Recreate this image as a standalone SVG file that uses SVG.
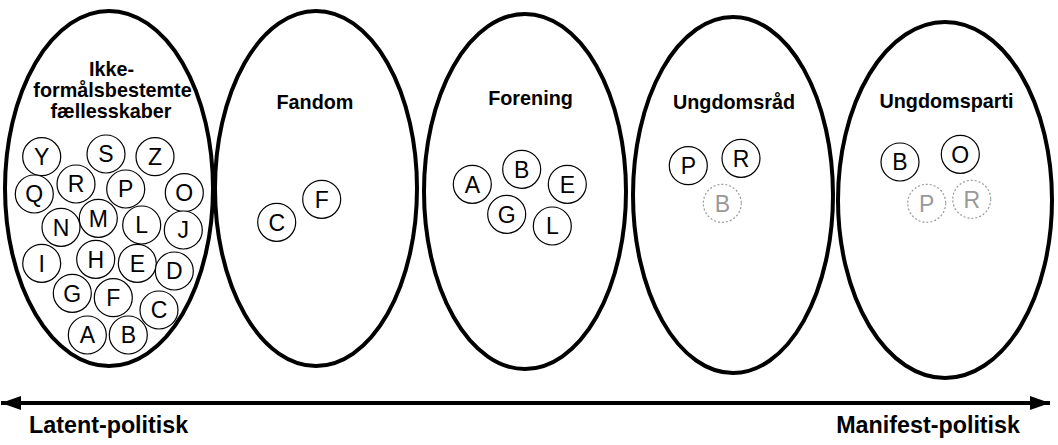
<svg xmlns="http://www.w3.org/2000/svg" width="1058" height="445" viewBox="0 0 1058 445">
<style>
.big{fill:#fff;stroke:#000;stroke-width:4}
.title{font-family:"Liberation Sans",Arial,sans-serif;font-weight:bold;font-size:19.8px;text-anchor:middle;fill:#000}
.m circle{fill:#fff;stroke:#000;stroke-width:1.2}
.m text{font-family:"Liberation Sans",Arial,sans-serif;font-size:23px;text-anchor:middle;fill:#000}
.g circle{fill:#fff;stroke:#999;stroke-width:1.2;stroke-dasharray:2 2}
.g text{font-family:"Liberation Sans",Arial,sans-serif;font-size:23px;text-anchor:middle;fill:#999}
.axis{font-family:"Liberation Sans",Arial,sans-serif;font-weight:bold;font-size:23.3px;fill:#000}
</style>
<defs>
<marker id="ah" markerWidth="20" markerHeight="14" refX="20" refY="7" orient="auto-start-reverse" markerUnits="userSpaceOnUse">
<path d="M0,0 L20,7 L0,14 Z" fill="#000"/>
</marker>
</defs>
<g id="connectors">
<line x1="1" y1="403" x2="1050" y2="403" stroke="#000" stroke-width="4" marker-start="url(#ah)" marker-end="url(#ah)"/>
</g>
<g id="node-ikke">
<ellipse class="big" cx="109" cy="188.5" rx="104" ry="177.5"/>
<text class="title" x="111.5" y="76">Ikke-</text>
<text class="title" x="112.5" y="97">formålsbestemte</text>
<text class="title" x="111" y="118">fællesskaber</text>
<g class="m">
<circle cx="41.7" cy="156.7" r="19"/><text x="41.7" y="165">Y</text>
<circle cx="106" cy="154" r="19"/><text x="106" y="162.3">S</text>
<circle cx="155" cy="156.7" r="19"/><text x="155" y="165">Z</text>
<circle cx="76" cy="184" r="19"/><text x="76" y="192.3">R</text>
<circle cx="34.3" cy="194" r="19"/><text x="34.3" y="202.3">Q</text>
<circle cx="125.7" cy="189" r="19"/><text x="125.7" y="197.3">P</text>
<circle cx="184.3" cy="192.7" r="19"/><text x="184.3" y="201">O</text>
<circle cx="98.3" cy="218.3" r="19"/><text x="98.3" y="226.6">M</text>
<circle cx="61" cy="227.3" r="19"/><text x="61" y="235.6">N</text>
<circle cx="141.7" cy="225" r="19"/><text x="141.7" y="233.3">L</text>
<circle cx="183.3" cy="230" r="19"/><text x="183.3" y="238.3">J</text>
<circle cx="41.7" cy="263.3" r="19"/><text x="41.7" y="271.6">I</text>
<circle cx="95.7" cy="259.3" r="19"/><text x="95.7" y="267.6">H</text>
<circle cx="137.3" cy="263.3" r="19"/><text x="137.3" y="271.6">E</text>
<circle cx="174.3" cy="271" r="19"/><text x="174.3" y="279.3">D</text>
<circle cx="72.3" cy="293.3" r="19"/><text x="72.3" y="301.6">G</text>
<circle cx="113.3" cy="297.7" r="19"/><text x="113.3" y="306">F</text>
<circle cx="159" cy="310" r="19"/><text x="159" y="318.3">C</text>
<circle cx="87.3" cy="335" r="19"/><text x="87.3" y="343.3">A</text>
<circle cx="128.3" cy="335" r="19"/><text x="128.3" y="343.3">B</text>
</g>
</g>
<g id="node-fandom">
<ellipse class="big" cx="316" cy="188.5" rx="101" ry="177.5"/>
<text class="title" x="315" y="108.5">Fandom</text>
<g class="m">
<circle cx="276.7" cy="222.3" r="19"/><text x="276.7" y="230.6">C</text>
<circle cx="321.7" cy="199.3" r="19"/><text x="321.7" y="207.6">F</text>
</g>
</g>
<g id="node-forening">
<ellipse class="big" cx="525" cy="191.5" rx="101" ry="177.5"/>
<text class="title" x="530.5" y="104.5">Forening</text>
<g class="m">
<circle cx="472.3" cy="184.3" r="19"/><text x="472.3" y="192.6">A</text>
<circle cx="521.7" cy="169.3" r="19"/><text x="521.7" y="177.6">B</text>
<circle cx="567.3" cy="184.3" r="19"/><text x="567.3" y="192.6">E</text>
<circle cx="506.7" cy="214.3" r="19"/><text x="506.7" y="222.6">G</text>
<circle cx="552.3" cy="226" r="19"/><text x="552.3" y="234.3">L</text>
</g>
</g>
<g id="node-ungdomsraad">
<ellipse class="big" cx="733" cy="195" rx="100" ry="178"/>
<text class="title" x="734" y="108.5">Ungdomsråd</text>
<g class="m">
<circle cx="688.3" cy="165.7" r="19"/><text x="688.3" y="174">P</text>
<circle cx="741" cy="158.3" r="19"/><text x="741" y="166.6">R</text>
</g>
<g class="g">
<circle cx="722.3" cy="203.3" r="19"/><text x="722.3" y="211.6">B</text>
</g>
</g>
<g id="node-ungdomsparti">
<ellipse class="big" cx="945" cy="200" rx="107" ry="178"/>
<text class="title" x="946.5" y="107.5">Ungdomsparti</text>
<g class="m">
<circle cx="900" cy="162" r="19"/><text x="900" y="170.3">B</text>
<circle cx="960.3" cy="154.3" r="19"/><text x="960.3" y="162.6">O</text>
</g>
<g class="g">
<circle cx="926.7" cy="203.3" r="19"/><text x="926.7" y="211.6">P</text>
<circle cx="971.7" cy="199.3" r="19"/><text x="971.7" y="207.6">R</text>
</g>
</g>
<g id="labels">
<text class="axis" x="29" y="433">Latent-politisk</text>
<text class="axis" x="1020" y="433" text-anchor="end">Manifest-politisk</text>
</g>
</svg>
